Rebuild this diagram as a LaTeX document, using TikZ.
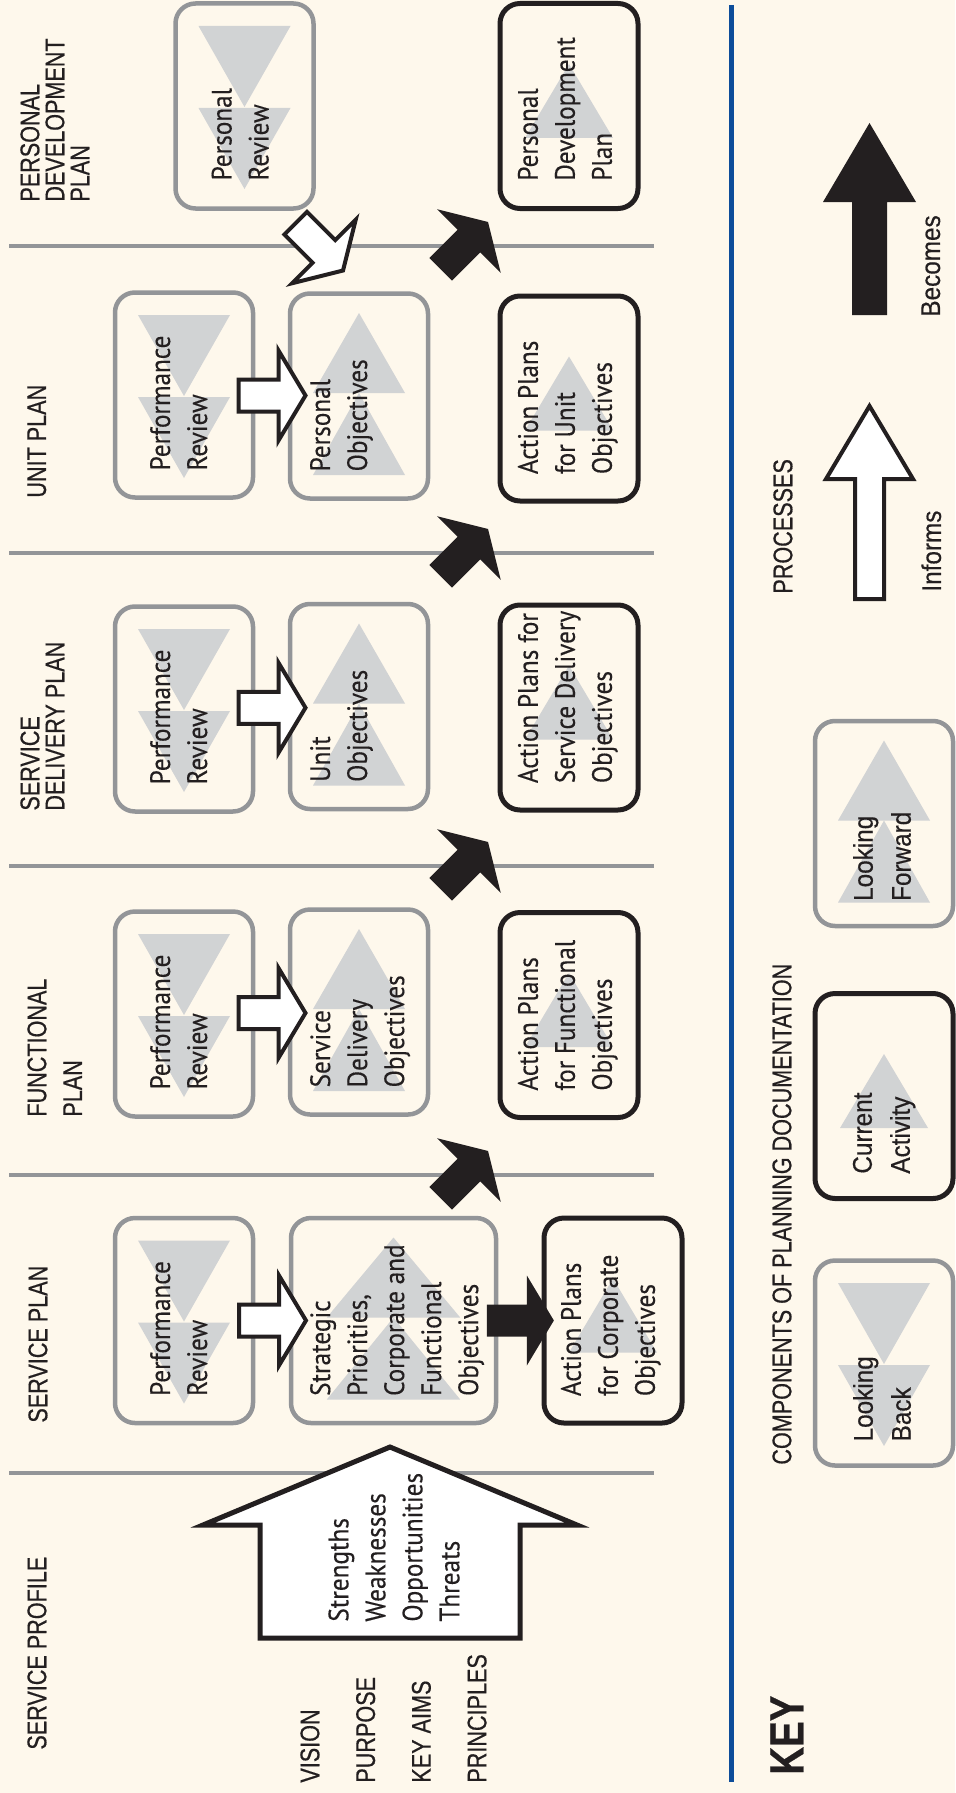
\documentclass[tikz,border=0pt]{standalone}
\usepackage{fontspec}
\usetikzlibrary{calc}
\definecolor{PlanInk}{HTML}{231F20}
\definecolor{PlanGray}{HTML}{939598}
\definecolor{PlanTri}{HTML}{D1D3D4}
\definecolor{PlanCream}{HTML}{FEF8EC}
\definecolor{PlanBlue}{HTML}{0D4D9A}
\newfontfamily\planfont[FakeStretch=0.9,FakeBold=0.3]{PT Sans}
\newfontfamily\condfont[FakeStretch=0.8,FakeBold=0.5]{Liberation Sans}
\newfontfamily\keyfont[FakeStretch=0.9,FakeBold=0.4]{Liberation Sans}

\tikzset{
  pastbox/.style={draw=PlanGray,line width=2.25pt,rounded corners=10pt,minimum width=69pt,minimum height=102.5pt,inner sep=0pt},
  nowbox/.style={pastbox,draw=PlanInk,line width=2.5pt},
  boxtext/.style={rotate=90,anchor=north west,align=left,inner sep=0pt,text=PlanInk,font=\planfont\fontsize{14}{18.5}\selectfont},
  heading/.style={rotate=90,anchor=north west,align=left,inner sep=0pt,text=PlanInk,font=\condfont\fontsize{13.5}{12.5}\selectfont},
  keytext/.style={boxtext,font=\keyfont\fontsize{13.5}{19}\selectfont},
  informs/.style={fill=white,draw=PlanInk,line width=2pt,line join=miter},
  becomes/.style={fill=PlanInk},
  backtri/.pic={\fill[PlanTri] (-46,-80) -- (46,-80) -- (0,1) -- cycle;
                \fill[PlanTri] (-46,2) -- (46,2) -- (0,83) -- cycle;},
  fwdtri/.pic={\fill[PlanTri] (-46,-3) -- (46,-3) -- (0,-83) -- cycle;
               \fill[PlanTri] (-46,79) -- (46,79) -- (0,-3) -- cycle;},
  nowtri/.pic={\fill[PlanTri] (-44,32) -- (44,32) -- (0,-42) -- cycle;},
}
% small block arrow: style, centre, page angle
\newcommand{\blockarrow}[3]{%
  \path[#1,shift={#2},rotate=#3] (-33,-16) -- (7,-16) -- (7,-45) -- (34,0) -- (7,45) -- (7,16) -- (-33,16) -- cycle;}

\begin{document}
\begin{tikzpicture}[x=0.5pt,y=-0.5pt]
\fill[PlanCream] (0,0) rectangle (955,1793);
\useasboundingbox (0,0) rectangle (955,1793);

% level separators and key rule
\foreach \y in {246,553,866,1175,1473} {\draw[PlanGray,line width=2.35pt] (9,\y) -- (654,\y);}
\draw[PlanBlue,line width=2.5pt] (731,5) -- (731,1782);

% service profile
\node[heading] (hd0) at (27,1750) {SERVICE PROFILE};
\node[heading,font=\condfont\fontsize{13.5}{27.85}\selectfont] (values) at (300,1783) {VISION\\PURPOSE\\KEY AIMS\\PRINCIPLES};
\draw[informs,line width=2.5pt] (260,1638) -- (260,1525) -- (203,1525) -- (390,1447) -- (577,1525) -- (520,1525) -- (520,1638) -- cycle;
\node[boxtext] (swot) at (328,1622) {Strengths\\Weaknesses\\Opportunities\\Threats};

% service plan
\node[heading] (hd1) at (28,1423) {SERVICE PLAN};
\node[pastbox] (pr1) at (184,1320.5) {};
\node[pastbox,minimum width=102.5pt] (ob1) at (393.5,1320.5) {};
\node[nowbox] (ap1) at (613,1320.5) {};
\pic at (pr1) {backtri};
\pic[xscale=1.45] at (ob1) {fwdtri};
\pic at (ap1) {nowtri};
\node[boxtext] (pr1t) at ([shift={(37,-29)}]pr1.south west) {Performance\\Review};
\node[boxtext] (ob1t) at ([shift={(21,-29)}]ob1.south west) {Strategic\\Priorities,\\Corporate and\\Functional\\Objectives};
\node[boxtext] (ap1t) at ([shift={(19,-29)}]ap1.south west) {Action Plans\\for Corporate\\Objectives};

% functional plan
\node[heading] (hd2) at (27,1117) {FUNCTIONAL\\[5.35pt]PLAN};
\node[pastbox] (pr2) at (184,1014) {};
\node[pastbox] (ob2) at (359,1012) {};
\node[nowbox] (ap2) at (569,1015) {};
\pic at (pr2) {backtri};
\pic at (ob2) {fwdtri};
\pic at (ap2) {nowtri};
\node[boxtext] (pr2t) at ([shift={(37,-29)}]pr2.south west) {Performance\\Review};
\node[boxtext] (ob2t) at ([shift={(22,-29)}]ob2.south west) {Service\\Delivery\\Objectives};
\node[boxtext] (ap2t) at ([shift={(20,-29)}]ap2.south west) {Action Plans\\for Functional\\Objectives};

% service delivery plan
\node[heading] (hd3) at (20,811) {SERVICE\\DELIVERY PLAN};
\node[pastbox] (pr3) at (184,709) {};
\node[pastbox] (ob3) at (359,706.5) {};
\node[nowbox] (ap3) at (569,707.5) {};
\pic at (pr3) {backtri};
\pic at (ob3) {fwdtri};
\pic at (ap3) {nowtri};
\node[boxtext] (pr3t) at ([shift={(37,-29)}]pr3.south west) {Performance\\Review};
\node[boxtext] (ob3t) at ([shift={(22,-29)}]ob3.south west) {Unit\\Objectives};
\node[boxtext] (ap3t) at ([shift={(20,-29)}]ap3.south west) {Action Plans for\\Service Delivery\\Objectives};

% unit plan
\node[heading] (hd4) at (27,498) {UNIT PLAN};
\node[pastbox] (pr4) at (184,395) {};
\node[pastbox] (ob4) at (359,396) {};
\node[nowbox] (ap4) at (569,398.5) {};
\pic at (pr4) {backtri};
\pic at (ob4) {fwdtri};
\pic at (ap4) {nowtri};
\node[boxtext] (pr4t) at ([shift={(37,-29)}]pr4.south west) {Performance\\Review};
\node[boxtext] (ob4t) at ([shift={(22,-29)}]ob4.south west) {Personal\\Objectives};
\node[boxtext] (ap4t) at ([shift={(20,-29)}]ap4.south west) {Action Plans\\for Unit\\Objectives};

% personal development plan
\node[heading] (hd5) at (20,202) {PERSONAL\\DEVELOPMENT\\PLAN};
\node[pastbox] (prP) at (244.5,106) {};
\node[nowbox] (apP) at (569,106) {};
\pic at (prP) {backtri};
\pic at (apP) {nowtri};
\node[boxtext] (prPt) at ([shift={(38,-30)}]prP.south west) {Personal\\Review};
\node[boxtext] (apPt) at ([shift={(20,-30)}]apP.south west) {Personal\\Development\\Plan};

% processes between the boxes
\blockarrow{informs}{($(pr1.east)!0.5!(ob1.west)$)}{0}
\blockarrow{informs}{($(pr2.east)!0.5!(ob2.west)$)}{0}
\blockarrow{informs}{($(pr3.east)!0.5!(ob3.west)$)}{0}
\blockarrow{informs}{($(pr4.east)!0.5!(ob4.west)$)}{0}
\blockarrow{becomes}{($(ob1.east)!0.5!(ap1.west)$)}{0}
\foreach \y in {246,553,866,1175} {\blockarrow{becomes}{(464,\y)}{45}}
\blockarrow{informs}{(319,246.5)}{-45}

% key
\node[heading,font=\condfont\bfseries\fontsize{24}{24}\selectfont] (keyhd) at (770,1775) {KEY};
\node[heading] (comphd) at (772,1465) {COMPONENTS OF PLANNING DOCUMENTATION};
\node[pastbox] (kb1) at (884,1363) {};
\node[nowbox] (kb2) at (884,1096) {};
\node[pastbox] (kb3) at (884,823.5) {};
\pic at (kb1) {backtri};
\pic at (kb2) {nowtri};
\pic at (kb3) {fwdtri};
\node[keytext] (kb1t) at ([shift={(40,-26)}]kb1.south west) {Looking\\Back};
\node[keytext] (kb2t) at ([shift={(40,-27)}]kb2.south west) {Current\\Activity};
\node[keytext] (kb3t) at ([shift={(40,-27)}]kb3.south west) {Looking\\Forward};
\node[heading] (prochd) at (773,594) {PROCESSES};
\draw[informs] (855,599) -- (855,479) -- (826,479) -- (869.5,406) -- (913,479) -- (884,479) -- (884,599) -- cycle;
\fill[becomes] (852,315) -- (852,202) -- (823,202) -- (869.5,123) -- (916,202) -- (887,202) -- (887,315) -- cycle;
\node[keytext] (inflab) at (921,592) {Informs};
\node[keytext] (beclab) at (921,317) {Becomes};
\end{tikzpicture}
\end{document}
